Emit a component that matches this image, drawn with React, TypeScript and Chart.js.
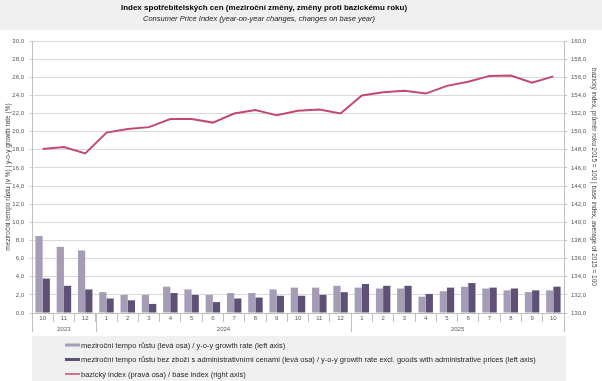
import React, { useEffect, useRef } from 'react';
import { Chart, registerables } from 'chart.js';
Chart.register(...registerables);

const months = ['10', '11', '12', '1', '2', '3', '4', '5', '6', '7', '8', '9', '10', '11', '12', '1', '2', '3', '4', '5', '6', '7', '8', '9', '10'];
const yearLabels = ['2023', '2024', '2025'];
const yearCounts = [3, 12, 10];

const growthRate = [8.5, 7.3, 6.9, 2.3, 2.0, 2.0, 2.9, 2.6, 2.0, 2.2, 2.2, 2.6, 2.8, 2.8, 3.0, 2.8, 2.7, 2.7, 1.8, 2.4, 2.9, 2.7, 2.5, 2.3, 2.5];
const growthExclAdmin = [3.8, 3.0, 2.6, 1.6, 1.4, 1.0, 2.2, 2.0, 1.2, 1.6, 1.7, 1.9, 1.9, 2.0, 2.3, 3.2, 3.0, 3.0, 2.1, 2.8, 3.3, 2.8, 2.7, 2.5, 2.9];
const baseIndex = [148.1, 148.3, 147.6, 149.9, 150.3, 150.5, 151.4, 151.4, 151.0, 152.0, 152.4, 151.8, 152.3, 152.45, 152.0, 154.0, 154.35, 154.5, 154.2, 155.05, 155.5, 156.15, 156.2, 155.4, 156.1];

const title = 'Index spotřebitelských cen (meziroční změny, změny proti bazickému roku)';
const subtitle = 'Consumer Price Index (year-on-year changes, changes on base year)';
const leftTitle = 'meziroční tempo růstu (v %) | y-o-y growth rate (%)';
const rightTitle = 'bazický index, průměr roku 2015 = 100 | base index, average of 2015 = 100';
const seriesLabels = [
  'meziroční tempo růstu (levá osa) / y-o-y growth rate (left axis)',
  'meziroční tempo růstu bez zboží s administrativními cenami (levá osa) / y-o-y growth rate excl. goods with administrative prices (left axis)',
  'bazický index (pravá osa) / base index (right axis)',
];

const FONT = "'Liberation Sans', Arial, sans-serif";
const LIGHT = '#a69cb6';
const DARK = '#5f5076';
const LINE = '#c2496f';
const BG = '#f0f0f0';
const AXIS = '#bfbfbf';
const GRID = '#d9d9d9';
const TICK = '#595959';

const fmt = (v: number) => v.toFixed(1).replace('.', ',');

const decorPlugin = {
  id: 'decor',
  beforeDraw(chart: any) {
    const { ctx, width, height, chartArea } = chart;
    ctx.save();
    ctx.fillStyle = '#ffffff';
    ctx.fillRect(0, 0, width, height);
    ctx.fillStyle = BG;
    ctx.fillRect(0, 0, width, 30);
    ctx.fillRect(chartArea.left, 336, 566 - chartArea.left, height - 336);
    ctx.restore();
  },
  afterDraw(chart: any) {
    const { ctx, chartArea, scales } = chart;
    const x = scales.x;
    ctx.save();
    // titles
    ctx.fillStyle = '#000000';
    ctx.textAlign = 'center';
    ctx.textBaseline = 'middle';
    ctx.font = `bold 8px ${FONT}`;
    ctx.fillText(title, 264, 8);
    ctx.font = `italic 7.5px ${FONT}`;
    ctx.fillStyle = '#222222';
    ctx.fillText(subtitle, 259, 19);

    // year separators and labels
    ctx.strokeStyle = AXIS;
    ctx.lineWidth = 1;
    const half = (x.getPixelForValue(1) - x.getPixelForValue(0)) / 2;
    let start = 0;
    const drawSep = (px: number) => {
      ctx.beginPath();
      ctx.moveTo(Math.round(px) + 0.5, chartArea.bottom);
      ctx.lineTo(Math.round(px) + 0.5, 332);
      ctx.stroke();
    };
    drawSep(x.getPixelForValue(0) - half);
    ctx.fillStyle = TICK;
    ctx.font = `6px ${FONT}`;
    for (let i = 0; i < yearLabels.length; i++) {
      const end = start + yearCounts[i] - 1;
      const l = x.getPixelForValue(start) - half;
      const r = x.getPixelForValue(end) + half;
      drawSep(r);
      ctx.fillText(yearLabels[i], (l + r) / 2, 329);
      start = end + 1;
    }

    // legend
    const ds = chart.data.datasets;
    const rows = [345, 359.5, 374];
    ctx.textAlign = 'left';
    ctx.font = `7.5px ${FONT}`;
    for (let i = 0; i < ds.length; i++) {
      const y = rows[i];
      if (ds[i].type === 'line') {
        ctx.strokeStyle = ds[i].borderColor;
        ctx.lineWidth = 1.5;
        ctx.beginPath();
        ctx.moveTo(65, y);
        ctx.lineTo(80, y);
        ctx.stroke();
      } else {
        ctx.fillStyle = ds[i].backgroundColor;
        ctx.fillRect(65, y - 1.5, 15, 3);
      }
      ctx.fillStyle = '#262626';
      ctx.fillText(ds[i].label, 81, y + 0.5);
    }
    ctx.restore();
  },
};

export default function App() {
  const ref = useRef<HTMLCanvasElement>(null);
  useEffect(() => {
    document.body.style.margin = '0';
    const canvas = ref.current!;
    const chart = new Chart(canvas, {
      type: 'bar',
      data: {
        labels: months,
        datasets: [
          { type: 'bar', label: seriesLabels[0], data: growthRate, backgroundColor: LIGHT, yAxisID: 'y', order: 2, categoryPercentage: 0.68, barPercentage: 1 },
          { type: 'bar', label: seriesLabels[1], data: growthExclAdmin, backgroundColor: DARK, yAxisID: 'y', order: 2, categoryPercentage: 0.68, barPercentage: 1 },
          { type: 'line', label: seriesLabels[2], data: baseIndex, borderColor: LINE, backgroundColor: LINE, borderWidth: 2, pointRadius: 0, yAxisID: 'y1', order: 1, tension: 0 },
        ] as any,
      },
      options: {
        responsive: false,
        animation: false,
        layout: { padding: { top: 41, left: 0, right: 0, bottom: 0 } },
        plugins: { legend: { display: false }, tooltip: { enabled: false } },
        scales: {
          x: {
            offset: true,
            grid: { offset: true, drawOnChartArea: false, tickLength: 9, color: AXIS },
            border: { color: AXIS },
            ticks: { font: { size: 6, family: FONT }, color: TICK, padding: -7, maxRotation: 0, autoSkip: false },
            afterFit: (s: any) => { s.height = 68; },
          },
          y: {
            position: 'left',
            min: 0,
            max: 30,
            ticks: { stepSize: 2, callback: (v: any) => fmt(Number(v)), font: { size: 6, family: FONT }, color: TICK, padding: 5 },
            grid: { color: GRID, tickLength: 3 },
            border: { color: AXIS },
            title: { display: true, text: leftTitle, font: { size: 6.5, family: FONT }, color: '#404040', padding: { top: 4, bottom: 0 } },
            afterFit: (s: any) => { s.width = 32; },
          },
          y1: {
            position: 'right',
            min: 130,
            max: 160,
            ticks: { stepSize: 2, callback: (v: any) => fmt(Number(v)), font: { size: 6, family: FONT }, color: TICK, padding: 4 },
            grid: { drawOnChartArea: false, color: AXIS, tickLength: 3 },
            border: { color: AXIS },
            title: { display: true, text: rightTitle, font: { size: 6.5, family: FONT }, color: '#404040', padding: { top: 4, bottom: 0 } },
            afterFit: (s: any) => { s.width = 38; },
          },
        },
      } as any,
      plugins: [decorPlugin],
    });
    return () => chart.destroy();
  }, []);
  return <canvas ref={ref} width={602} height={381} style={{ display: 'block' }} />;
}
